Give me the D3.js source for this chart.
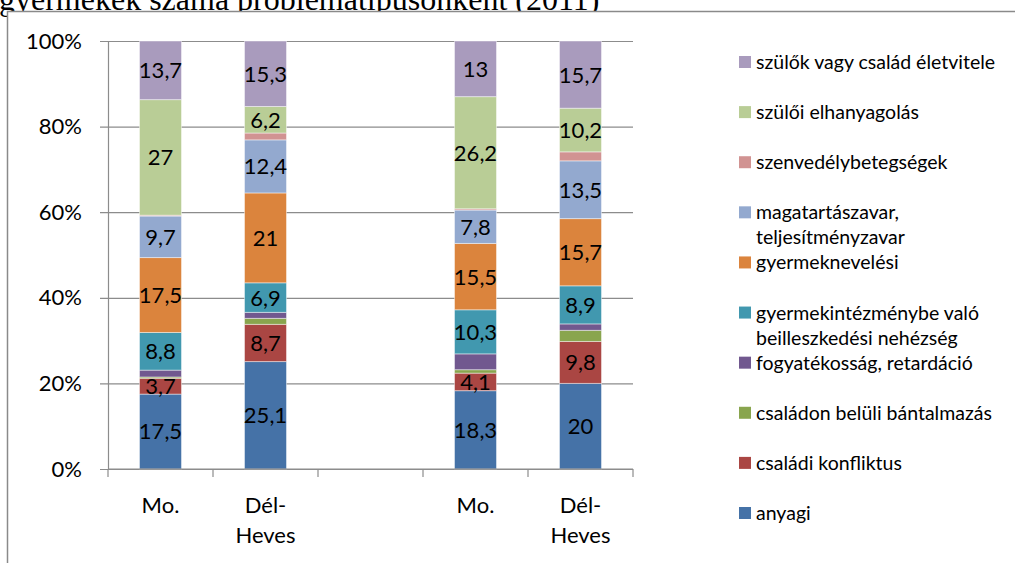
<!DOCTYPE html>
<html>
<head>
<meta charset="utf-8">
<script src="https://cdn.jsdelivr.net/npm/d3@7"></script>
<style>
  html, body { margin: 0; padding: 0; background: #fff; }
  svg { display: block; }
</style>
</head>
<body>
<svg id="chart" width="1015" height="563"></svg>
<script>
// ---- data ----
const titleText = "gyermekek száma problématípusonként (2011)";
const categories = ["Mo.", "Dél-Heves", "", "Mo.", "Dél-Heves"];
const seriesNames = [
  "anyagi",
  "családi konfliktus",
  "családon belüli bántalmazás",
  "fogyatékosság, retardáció",
  "gyermekintézménybe való beilleszkedési nehézség",
  "gyermeknevelési",
  "magatartászavar, teljesítményzavar",
  "szenvedélybetegségek",
  "szülői elhanyagolás",
  "szülők vagy család életvitele"
];
const legendLines = [
  ["anyagi"],
  ["családi konfliktus"],
  ["családon belüli bántalmazás"],
  ["fogyatékosság, retardáció"],
  ["gyermekintézménybe való", "beilleszkedési nehézség"],
  ["gyermeknevelési"],
  ["magatartászavar,", "teljesítményzavar"],
  ["szenvedélybetegségek"],
  ["szülői elhanyagolás"],
  ["szülők vagy család életvitele"]
];
const seriesColors = ["#4572A7", "#AA4643", "#89A54E", "#71588F", "#4198AF",
                      "#DB843D", "#93A9CF", "#D19392", "#B9CD96", "#A99BBD"];
// values per category (index 2 = empty gap)
const anyagi      = [17.5, 25.1, null, 18.3, 20];
const konfliktus  = [3.7, 8.7, null, 4.1, 9.8];
const bantalmazas = [0.3, 1.4, null, 0.8, 2.6];
const fogyatekos  = [1.6, 1.4, null, 3.7, 1.5];
const intezmeny   = [8.8, 6.9, null, 10.3, 8.9];
const neveles     = [17.5, 21, null, 15.5, 15.7];
const magatartas  = [9.7, 12.4, null, 7.8, 13.5];
const szenvedely  = [0.2, 1.6, null, 0.3, 2.1];
const elhanyagol  = [27, 6.2, null, 26.2, 10.2];
const eletvitel   = [13.7, 15.3, null, 13, 15.7];
const seriesValues = [anyagi, konfliktus, bantalmazas, fogyatekos, intezmeny,
                      neveles, magatartas, szenvedely, elhanyagol, eletvitel];
const showLabel = [true, true, false, false, true, true, true, false, true, true];
const yTicks = [0, 0.2, 0.4, 0.6, 0.8, 1];

// ---- drawing ----
const svg = d3.select("#chart");
const W = 1015, H = 563;
const plot = {left: 108, right: 633, top: 41, bottom: 469};
const fontSans = "Lato, 'Open Sans', sans-serif";
const mainSize = 22;

// title (partly hidden behind chart frame, as in the original)
svg.append("text")
  .attr("x", -1).attr("y", 10)
  .attr("font-family", "'Liberation Serif', 'Times New Roman', serif")
  .attr("font-size", 32)
  .attr("fill", "#000")
  .text(titleText);

// chart frame
svg.append("rect")
  .attr("x", 7.5).attr("y", 11.5)
  .attr("width", W + 10).attr("height", H)
  .attr("fill", "#fff")
  .attr("stroke", "#8a8a8a").attr("stroke-width", 1.5);

const idx = categories.map((c, i) => i);
const x = d3.scaleBand().domain(idx).range([plot.left, plot.right])
  .paddingInner(0.6).paddingOuter(0.3);
const y = d3.scaleLinear().domain([0, 1]).range([plot.bottom, plot.top]);

// gridlines
const gy = svg.append("g").attr("transform", `translate(${plot.right},0)`);
gy.call(d3.axisLeft(y).tickValues(yTicks).tickSize(plot.right - plot.left + 8).tickFormat(""));
gy.select(".domain").remove();
gy.selectAll(".tick line").attr("stroke", "#8c8c8c").attr("stroke-width", 1.2);

// y axis line + labels
const gyl = svg.append("g").attr("transform", `translate(${plot.left},0)`);
gyl.call(d3.axisLeft(y).tickValues(yTicks).tickSize(0).tickPadding(26).tickFormat(d3.format(".0%")));
gyl.select(".domain").attr("stroke", "#8c8c8c").attr("stroke-width", 1.2);
gyl.selectAll(".tick text")
  .attr("font-family", fontSans).attr("font-size", mainSize).attr("fill", "#000");

// stacked data (normalized to 100%)
const rows = idx.map(i => {
  const vals = seriesValues.map(s => s[i]);
  const total = d3.sum(vals.filter(v => v != null));
  const r = {i};
  seriesNames.forEach((n, k) => { r[n] = total ? (vals[k] || 0) / total : 0; r["raw_" + k] = vals[k]; });
  return r;
});
const stacked = d3.stack().keys(seriesNames)(rows);

const layers = svg.append("g").selectAll("g").data(stacked).join("g")
  .attr("fill", (d, k) => seriesColors[k]);
layers.selectAll("rect").data(d => d.map(p => ({p, k: d.index})).filter(o => o.p.data["raw_" + o.k] != null))
  .join("rect")
  .attr("x", o => x(o.p.data.i))
  .attr("width", x.bandwidth())
  .attr("y", o => y(o.p[1]))
  .attr("height", o => y(o.p[0]) - y(o.p[1]))
  .attr("stroke", "rgba(255,255,255,0.45)")
  .attr("stroke-width", 1);

// labels
const fmt = v => String(v).replace(".", ",");
layers.each(function(d, k) {
  if (!showLabel[k]) return;
  d3.select(this).selectAll("text").data(d.filter(p => p.data["raw_" + k] != null))
    .join("text")
    .attr("x", p => x(p.data.i) + x.bandwidth() / 2)
    .attr("y", p => (y(p[0]) + y(p[1])) / 2)
    .attr("dy", "0.36em")
    .attr("text-anchor", "middle")
    .attr("font-family", fontSans).attr("font-size", mainSize)
    .attr("fill", "#000")
    .text(p => fmt(p.data["raw_" + k]));
});

// x axis
const step = x.step();
const gx = svg.append("g");
gx.append("line")
  .attr("x1", plot.left).attr("x2", plot.right)
  .attr("y1", plot.bottom).attr("y2", plot.bottom)
  .attr("stroke", "#8c8c8c").attr("stroke-width", 1.2);
const boundaries = d3.range(categories.length + 1).map(i => plot.left + i * step);
gx.selectAll("line.tk").data(boundaries).join("line").attr("class", "tk")
  .attr("x1", d => d).attr("x2", d => d)
  .attr("y1", plot.bottom).attr("y2", plot.bottom + 8)
  .attr("stroke", "#8c8c8c").attr("stroke-width", 1.2);
const catLines = c => c.includes("-") ? [c.slice(0, c.indexOf("-") + 1), c.slice(c.indexOf("-") + 1)] : [c];
gx.selectAll("text.cat").data(idx).join("text").attr("class", "cat")
  .attr("x", i => x(i) + x.bandwidth() / 2)
  .attr("y", 513)
  .attr("text-anchor", "middle")
  .attr("font-family", fontSans).attr("font-size", mainSize).attr("fill", "#000")
  .each(function(i) {
    const t = d3.select(this);
    catLines(categories[i]).forEach((ln, j) => {
      t.append("tspan").attr("x", x(i) + x.bandwidth() / 2).attr("dy", j ? 30 : 0).text(ln);
    });
  });

// legend (top = last series)
const legendOrder = d3.range(seriesNames.length).reverse();
const ly = d3.scalePoint().domain(legendOrder).range([62, 513]);
const lg = svg.append("g").selectAll("g").data(legendOrder).join("g")
  .attr("transform", k => `translate(739,${ly(k)})`);
lg.append("rect").attr("x", 0).attr("y", -6).attr("width", 12).attr("height", 12)
  .attr("fill", k => seriesColors[k]);
lg.append("text")
  .attr("font-family", fontSans).attr("font-size", 19.5).attr("fill", "#000")
  .each(function(k) {
    const t = d3.select(this);
    legendLines[k].forEach((ln, j) => {
      t.append("tspan").attr("x", 17).attr("y", j * 25).attr("dy", "0.36em").text(ln);
    });
  });
</script>
</body>
</html>
